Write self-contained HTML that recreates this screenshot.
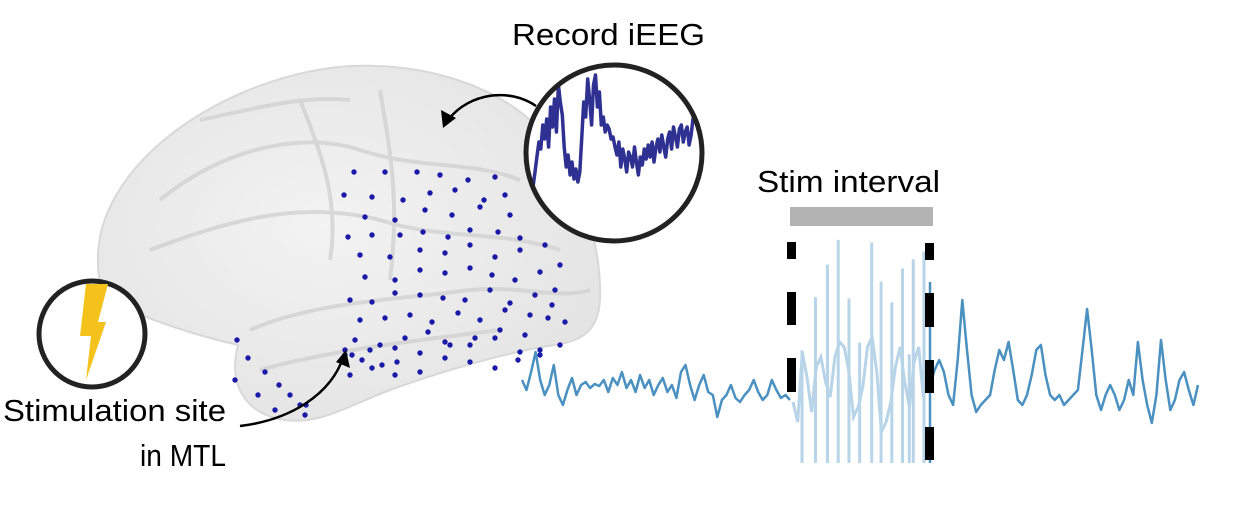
<!DOCTYPE html>
<html><head><meta charset="utf-8"><style>
html,body{margin:0;padding:0;background:#fff;}
svg{display:block;font-family:"Liberation Sans",Arial,sans-serif;}
</style></head><body>
<svg id="fig" width="1234" height="513" viewBox="0 0 1234 513" xmlns="http://www.w3.org/2000/svg">
<defs>
<clipPath id="insetClip"><circle cx="614" cy="153" r="88"/></clipPath>
<radialGradient id="brainGrad" cx="0.45" cy="0.45" r="0.6">
<stop offset="0" stop-color="#f3f3f3"/><stop offset="1" stop-color="#e4e4e4"/></radialGradient>
</defs>
<g>
<path d="M98,262 C95,170 210,85 330,68 C410,58 500,82 545,135 C578,178 602,240 600,300 C598,335 578,342 548,346 C500,354 440,372 390,390 C350,405 320,425 285,420 C245,414 228,385 238,345 C195,335 140,318 112,300 C100,290 98,278 98,262 Z" fill="url(#brainGrad)" stroke="#d8d8d8" stroke-width="2"/>
<g fill="none" stroke="#d2d2d2" stroke-width="4" opacity="0.8">
<path d="M160,200 C220,150 300,130 360,150 C420,170 470,160 520,180"/>
<path d="M150,250 C230,220 300,200 380,220 C440,240 500,230 560,250"/>
<path d="M250,330 C320,300 400,300 470,290 C520,285 560,300 590,290"/>
<path d="M260,370 C330,350 420,340 500,330"/>
<path d="M300,100 C320,150 340,200 330,260"/>
<path d="M380,90 C390,150 400,200 390,280"/>
<path d="M200,120 C250,110 300,95 350,100"/>
</g>
</g>
<g id="dots"></g>
<g>
<circle cx="92" cy="334" r="53" fill="#fff" stroke="#222" stroke-width="5"/>
<path d="M86,284 L108,284 L98,322 L106,322 L86,380 L91,336 L80,336 Z" fill="#f5c21b"/>
</g>
<g>
<circle cx="614" cy="153" r="88" fill="#fff"/>
<polyline id="insetTrace" clip-path="url(#insetClip)" fill="none" stroke="#2e3192" stroke-width="3.5" stroke-linejoin="round"/>
<circle cx="614" cy="153" r="88" fill="none" stroke="#222" stroke-width="5"/>
</g>
<path d="M536,106 C510,88 470,92 448,120" fill="none" stroke="#000" stroke-width="2.5"/>
<path d="M443,128 L441,110 L456,118 Z" fill="#000"/>
<path d="M240,426 C290,420 330,395 343,358" fill="none" stroke="#000" stroke-width="2.5"/>
<path d="M346,350 L350,368 L336,362 Z" fill="#000"/>
<text x="512" y="45" font-size="31" textLength="193" lengthAdjust="spacingAndGlyphs">Record iEEG</text>
<text x="757" y="192" font-size="31" textLength="183" lengthAdjust="spacingAndGlyphs">Stim interval</text>
<text x="3" y="421" font-size="31" textLength="223" lengthAdjust="spacingAndGlyphs">Stimulation site</text>
<text x="140" y="466" font-size="31" textLength="86" lengthAdjust="spacingAndGlyphs">in MTL</text>
<rect x="790" y="207" width="143" height="19" fill="#b3b3b3"/>
<g id="spikes"></g>
<polyline id="stimTrace" fill="none" stroke="#b8d4e8" stroke-width="3"/>
<polyline id="preTrace" fill="none" stroke="#4a90c0" stroke-width="2.5" stroke-linejoin="round"/>
<polyline id="postTrace" fill="none" stroke="#4a90c0" stroke-width="2.5" stroke-linejoin="round"/>
<line x1="930" y1="282" x2="930" y2="463" stroke="#4a90c0" stroke-width="2.5"/>
<g fill="#000">
<rect x="787" y="242" width="9" height="17"/><rect x="787" y="292" width="9" height="33"/><rect x="787" y="358" width="9" height="34"/>
</g>
<g fill="#000">
<rect x="925" y="243" width="9" height="17"/><rect x="925" y="293" width="9" height="34"/><rect x="925" y="360" width="9" height="33"/><rect x="925" y="427" width="9" height="33"/>
</g>
</svg>
<script>
const dotsX=[354,385,417,440,468,495,344,372,403,430,455,484,505,365,395,425,452,480,510,348,372,400,423,448,470,498,520,360,390,420,445,470,495,520,545,365,395,420,445,470,492,515,540,560,350,372,395,420,443,465,490,510,535,555,360,385,410,432,458,480,505,530,552,565,355,380,405,428,450,475,500,525,548,345,370,395,420,445,470,495,520,540,560,350,372,397,420,445,470,495,518,540,237,248,265,279,290,300,305,235,258,275,306,345,352,362,382,395];
const dotsY=[172,172,172,175,180,177,195,197,200,193,190,200,195,217,220,210,215,207,215,237,235,235,232,237,230,232,238,255,257,250,253,245,257,250,245,277,280,270,273,268,275,280,272,265,300,302,293,295,298,300,290,303,295,290,320,318,315,322,313,320,310,315,305,322,340,345,338,332,345,338,330,335,318,355,350,348,353,342,345,338,352,350,345,375,368,362,372,358,362,368,360,355,340,358,372,385,395,405,415,380,395,410,405,350,355,360,365,375];
const inset=[0,15,30,45,38,62,48,68,40,80,60,88,55,102,85,72,40,20,32,12,25,8,18,5,15,50,85,70,108,88,62,102,112,80,95,62,70,55,62,58,48,50,40,32,45,20,38,28,15,35,30,20,40,25,12,30,22,38,28,42,30,45,25,40,48,35,52,40,30,48,55,38,60,50,40,58,62,45,55,60,42,52,68,75];
const pre=[10,0,18,38,10,-5,5,25,-5,-15,0,12,-5,5,8,2,6,4,10,-2,12,5,18,2,10,-2,15,2,10,-5,5,12,-2,5,-8,18,25,5,-10,5,15,-2,-5,-27,-10,-5,5,-8,-12,-5,0,10,-2,-10,-5,10,0,-8,-5,-10];
const post=[5,20,30,18,-5,-15,30,90,40,-5,-22,-15,-10,-5,20,40,30,48,20,-10,-15,-5,15,40,45,15,-5,-10,-5,-15,-10,-5,0,40,81,40,-5,-20,-5,5,-5,-20,-10,10,-5,48,10,-15,-33,-5,50,10,-20,-10,10,18,0,-15,5];
const stimLow=[-10,-30,40,15,-20,25,35,10,-5,35,50,45,20,-25,-15,5,45,55,20,-40,-30,-10,25,45,10,-15,30,45,-5,20];
const spikeT=[0.06,0.16,0.25,0.33,0.41,0.49,0.58,0.65,0.73,0.81,0.86,0.89,0.97];
const spikeH=[32,73,98,117,72,38,115,85,69,95,29,102,108];
const ns="http://www.w3.org/2000/svg";
const dg=document.getElementById('dots');
for(let i=0;i<dotsX.length;i++){const c=document.createElementNS(ns,'circle');


c.setAttribute('cx',dotsX[i]);c.setAttribute('cy',dotsY[i]);c.setAttribute('r',2.7);c.setAttribute('fill','#1a1aa8');dg.appendChild(c);}
function line(id,arr,x0,x1,y0,scale){
document.getElementById(id).setAttribute('points',arr.map((v,i)=>(x0+(x1-x0)*i/(arr.length-1)).toFixed(1)+','+(y0-v*scale).toFixed(1)).join(' '));}
line('insetTrace',inset,533,695,187,1);
line('preTrace',pre,522,790,390,1);
line('postTrace',post,930,1198,390,1);
line('stimTrace',stimLow,793,928,392,1);
const sg=document.getElementById('spikes');
for(let j=0;j<spikeT.length;j++){const l=document.createElementNS(ns,'line');


const x=794+spikeT[j]*(928-794);l.setAttribute('x1',x);l.setAttribute('x2',x);
l.setAttribute('y1',392-spikeH[j]*1.3);l.setAttribute('y2',463);
l.setAttribute('stroke','#b8d4e8');l.setAttribute('stroke-width','3');sg.appendChild(l);}
</script>
</body></html>
